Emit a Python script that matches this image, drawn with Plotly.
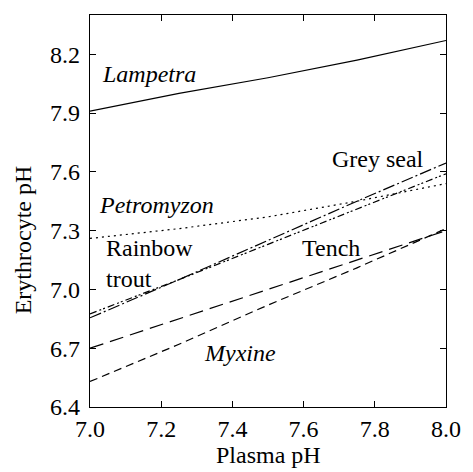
import plotly.graph_objects as go

plasma_ph = [7.0, 7.25, 7.5, 7.75, 8.0]
lampetra = [7.91, 8.00, 8.08, 8.17, 8.27]
petromyzon = [7.26, 7.31, 7.37, 7.45, 7.54]
grey_seal = [6.855, 7.05, 7.25, 7.45, 7.645]
rainbow_trout = [6.875, 7.05, 7.23, 7.41, 7.59]
tench = [6.70, 6.85, 7.00, 7.15, 7.30]
myxine = [6.53, 6.72, 6.92, 7.11, 7.31]

series = [
    ("Lampetra", lampetra, "solid"),
    ("Petromyzon", petromyzon, "2px,4px"),
    ("Grey seal", grey_seal, "12px,3px,2px,3px"),
    ("Rainbow trout", rainbow_trout, "7px,3px,2px,2px,2px,3px"),
    ("Tench", tench, "14px,7px"),
    ("Myxine", myxine, "8px,5px"),
]

labels = [
    ("<i>Lampetra</i>", 7.165, 8.10, "center"),
    ("<i>Petromyzon</i>", 7.186, 7.43, "center"),
    ("Rainbow<br>trout", 7.038, 7.13, "left"),
    ("Grey seal", 7.81, 7.666, "center"),
    ("Tench", 7.678, 7.21, "center"),
    ("<i>Myxine</i>", 7.421, 6.675, "center"),
]

FAMILY = "Liberation Serif, Times New Roman, serif"
font = dict(family=FAMILY, size=24, color="black")

fig = go.Figure()
for name, ys, dash in series:
    fig.add_trace(go.Scatter(x=plasma_ph, y=ys, mode="lines", name=name,
                             line=dict(color="black", width=1.2, dash=dash)))

for text, x, y, align in labels:
    fig.add_annotation(x=x, y=y, text=text, showarrow=False, align="left",
                       xanchor="left" if align == "left" else "center",
                       font=font)

fig.add_annotation(xref="paper", yref="paper", x=(22 - 90) / 363, y=(407 - 240) / 392,
                   text="Erythrocyte pH", textangle=-90, showarrow=False,
                   xanchor="center", yanchor="middle", font=font)
fig.add_annotation(xref="paper", yref="paper", x=0.5, y=-(455 - 407) / 392,
                   text="Plasma pH", showarrow=False,
                   xanchor="center", yanchor="middle", font=font)

axis_common = dict(showgrid=False, zeroline=False, showline=True, linecolor="black",
                   linewidth=1.2, mirror="ticks", ticks="inside", ticklen=6,
                   tickcolor="black", tickwidth=1.2, tickfont=font)
fig.update_xaxes(range=[7.0, 8.0], tickvals=[7.0, 7.2, 7.4, 7.6, 7.8, 8.0],
                 ticktext=["7.0", "7.2", "7.4", "7.6", "7.8", "8.0"], **axis_common)
fig.update_yaxes(range=[6.4, 8.4], tickvals=[6.4, 6.7, 7.0, 7.3, 7.6, 7.9, 8.2],
                 ticktext=["6.4", "6.7", "7.0", "7.3", "7.6", "7.9", "8.2"],
                 ticklabelstandoff=4, **axis_common)
fig.update_layout(width=473, height=472, margin=dict(l=90, r=20, t=15, b=65),
                  paper_bgcolor="white", plot_bgcolor="white", showlegend=False,
                  font=font)
fig.write_html("out.html")
